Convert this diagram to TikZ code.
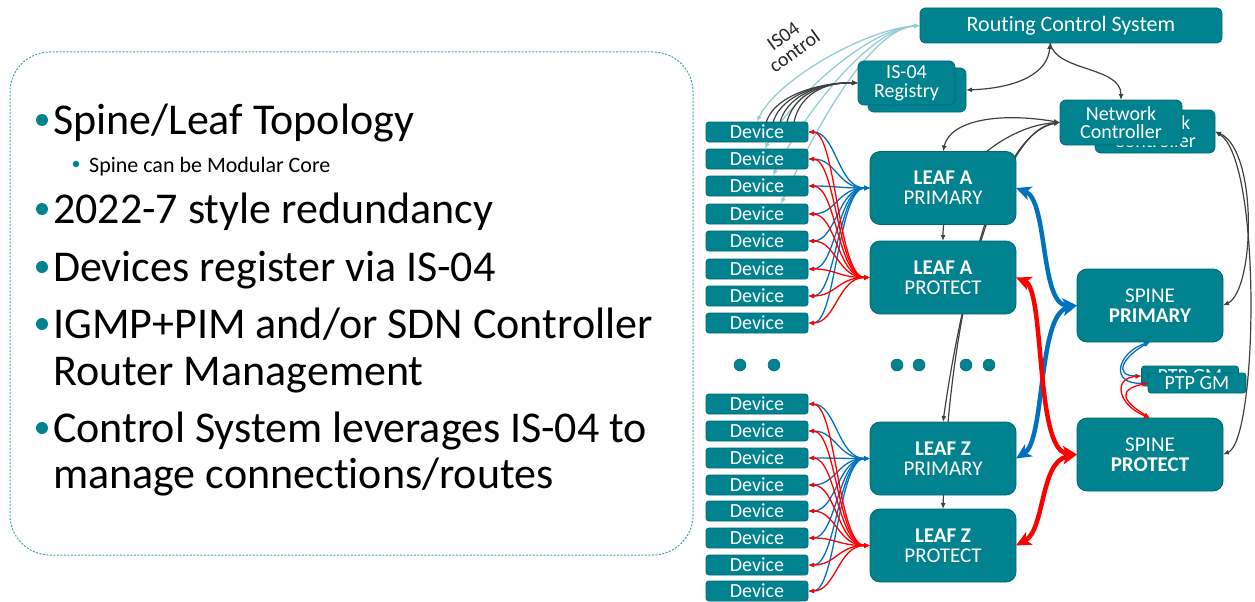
\documentclass[tikz,border=0pt]{standalone}
\usepackage{fontspec}
\setmainfont{Carlito}[Ligatures={NoCommon}]
\usetikzlibrary{arrows.meta,calc}
\pgfdeclarelayer{bg}
\pgfsetlayers{bg,main}
\definecolor{tealf}{RGB}{0,130,143}
\definecolor{tealdk}{RGB}{0,104,115}
\definecolor{dashc}{RGB}{70,160,175}
\definecolor{lblue}{RGB}{150,205,212}
\definecolor{dkgray}{RGB}{64,64,64}
\definecolor{bluec}{RGB}{0,112,192}
\definecolor{redc}{RGB}{255,0,0}
\newcommand\setfsb[2]{\fontsize{#1}{#2}\selectfont}
\begin{document}
\begin{tikzpicture}[x=1pt,y=-1pt,
  tbox/.style={draw=tealdk, line width=0.8pt, fill=tealf, text=white, align=center,
    inner sep=0pt, outer sep=0pt},
  leafbox/.style={tbox, rounded corners=10pt, minimum width=146pt, minimum height=73pt,
    font={\setfsb{21}{20}}},
  devbox/.style={tbox, rounded corners=3pt, minimum width=102pt, minimum height=20pt,
    font={\setfsb{20}{20}}},
  ptpbox/.style={tbox, rounded corners=3pt, minimum width=97pt, minimum height=20pt,
    font={\setfsb{20}{20}}},
  smallarr/.style={{Latex[length=6pt,width=5pt]}-{Latex[length=6pt,width=5pt]}},
  bthin/.style={draw=bluec, line width=1.3pt, smallarr},
  rthin/.style={draw=redc, line width=1.3pt, smallarr},
  lbl/.style={draw=lblue, line width=1.3pt, smallarr},
  dk/.style={draw=dkgray, line width=1.2pt},
  dkb/.style={dk, smallarr},
  bigarr/.style={{Stealth[length=15pt,width=14pt,inset=4pt]}-{Stealth[length=15pt,width=14pt,inset=4pt]}},
  bthick/.style={draw=bluec, line width=4.5pt, bigarr},
  rthick/.style={draw=redc, line width=4.5pt, bigarr},
  btext/.style={anchor=base west, inner sep=0pt, font={\setfsb{44}{44}}},
  bdot/.style={circle, fill=tealf, draw=none, inner sep=0pt, outer sep=0pt, minimum size=#1},
  dotc/.style={fill=tealf, draw=tealdk, line width=0.5pt}
]
\useasboundingbox (0,0) rectangle (1255,602);

% ---------- left text panel ----------
\node[draw=dashc, line width=1pt, dash pattern=on 2pt off 1.5pt, rounded corners=40pt,
  minimum width=683pt, minimum height=503pt, inner sep=0pt] (panel) at (351.5,303.5) {};
\node[bdot=12pt] (b1) at (42,120) {};
\node[btext] (t1) at (53,134) {Spine/Leaf Topology};
\node[bdot=6.5pt] (b2) at (76,164) {};
\node[btext, font={\setfsb{22}{22}}] (t2) at (89,172) {Spine can be Modular Core};
\node[bdot=12pt] (b3) at (42,209) {};
\node[btext] (t3) at (53,223) {2022-7 style redundancy};
\node[bdot=12pt] (b4) at (42,267) {};
\node[btext] (t4) at (53,281) {Devices register via IS-04};
\node[bdot=12pt] (b5) at (42,324) {};
\node[btext] (t5) at (53,338) {IGMP+PIM and/or SDN Controller};
\node[btext] (t6) at (53,385) {Router Management};
\node[bdot=12pt] (b7) at (42,428) {};
\node[btext] (t7) at (53,442) {Control System leverages IS-04 to};
\node[btext] (t8) at (53,488) {manage connections/routes};

% ---------- right diagram nodes ----------
\node[tbox, rounded corners=5pt, minimum width=302pt, minimum height=35pt,
  font={\setfsb{22}{22}}] (rcs) at (1071,25.5) {Routing Control System};

\node[tbox, rounded corners=6pt, minimum width=98pt, minimum height=44pt] (regb) at (917,90) {};
\node[tbox, rounded corners=6pt, minimum width=97pt, minimum height=44pt,
  font={\setfsb{20}{18.5}}] (regf) at (906.5,83) {IS-04\\Registry};

\node[tbox, rounded corners=6pt, minimum width=120pt, minimum height=43pt,
  font={\setfsb{20}{18.5}}] (ncb) at (1155,131.5) {Network\\Controller};
\node[tbox, rounded corners=6pt, minimum width=122pt, minimum height=45pt,
  font={\setfsb{20}{18.5}}] (ncf) at (1121,122.5) {Network\\Controller};

\node[leafbox] (lap)  at (943,188)   {\textbf{LEAF A}\\PRIMARY};
\node[leafbox] (lapr) at (943,277.5) {\textbf{LEAF A}\\PROTECT};
\node[leafbox] (lzp)  at (943,458.5) {\textbf{LEAF Z}\\PRIMARY};
\node[leafbox] (lzpr) at (943,545.5) {\textbf{LEAF Z}\\PROTECT};

\node[leafbox] (spp) at (1150,305.5) {SPINE\\\textbf{PRIMARY}};
\node[leafbox] (spr) at (1150,454.5) {SPINE\\\textbf{PROTECT}};

\node[ptpbox] (ptpb) at (1190,376) {PTP GM};
\node[ptpbox, minimum width=98pt] (ptpf) at (1197,383) {PTP GM};

\foreach \y [count=\i] in {132,159,186,214,241,269,296,323}
  \node[devbox] (a\i) at (757,\y) {Device};
\foreach \y [count=\i] in {404,431,458,485,511,538,565,591}
  \node[devbox] (z\i) at (757,\y) {Device};

\foreach \x [count=\i] in {740,774,897,919,966,989}
  \node[dotc, circle, minimum size=12pt, inner sep=0pt] (dot\i) at (\x,365) {};

\node[rotate=36, font={\setfsb{20}{19}}, align=center, text=black!85, inner sep=0pt]
  (isl) at (789,44) {IS04\\control};

\coordinate (rcsb) at ($(rcs.south)+(-21,0)$);

% ---------- background connectors ----------
\begin{pgfonlayer}{bg}
  \foreach \i/\dx in {1/0,2/8,3/16,4/24}
    \draw[lbl] (rcs.west) .. controls (862,30) and ($(a\i.north)+(\dx+18,-40)$) .. ($(a\i.north)+(\dx,0)$);
  \foreach \dx in {8,15,22,29,36}
    \draw[dk, -{Latex[length=6pt,width=5pt]}] ($(a1.north)+(\dx,6)$) .. controls ($(a1.north)+(\dx+4,-28)$) and (825,82) .. (regf.west);
  \draw[dkb] (regb.east) .. controls (1020,88) and (1048,72) .. (rcsb);
  \draw[dk, -{Latex[length=6pt,width=5pt]}] (rcsb) .. controls (1056,72) and (1121,66) .. (ncf.north);
  \draw[dkb] (ncf.west) .. controls (1000,112) and (950,120) .. (lap.north);
  \draw[dkb] (ncf.west) .. controls (1010,125) and (943,170) .. (lapr.north);
  \draw[dkb] (ncf.west) .. controls (1000,130) and (960,300) .. (lzp.north);
  \draw[dkb] (ncf.west) .. controls (990,135) and (948,330) .. (lzpr.north);
  \draw[dkb] (ncb.east) .. controls (1258,150) and (1255,290) .. (spp.east);
  \draw[dkb] (ncb.east) .. controls (1262,160) and (1258,440) .. (spr.east);
\end{pgfonlayer}

% ---------- device <-> leaf ----------
\foreach \i in {1,...,8} {
  \draw[bthin] (a\i.east) .. controls +(28,0) and +(-32,0) .. (lap.west);
  \draw[bthin] (z\i.east) .. controls +(28,0) and +(-32,0) .. (lzp.west);
}
\foreach \i in {1,...,8} {
  \draw[rthin] (a\i.east) .. controls +(28,0) and +(-32,0) .. (lapr.west);
  \draw[rthin] (z\i.east) .. controls +(28,0) and +(-32,0) .. (lzpr.west);
}

% ---------- leaf <-> spine ----------
\draw[bthick] (lap.east) .. controls (1048,200) and (1040,305) .. (spp.west);
\draw[bthick] (lzp.east) .. controls (1045,440) and (1038,315) .. (spp.west);
\draw[rthick] (lapr.east) .. controls (1045,290) and (1035,450) .. (spr.west);
\draw[rthick] (lzpr.east) .. controls (1045,530) and (1040,462) .. (spr.west);

% ---------- PTP GM ----------
\draw[bthin] (ptpf.west) .. controls (1108,385) and (1118,352) .. (spp.south);
\draw[bthin] (ptpb.west) .. controls (1112,376) and (1124,356) .. (spp.south);
\draw[rthin] (ptpb.west) .. controls (1112,378) and (1118,405) .. (spr.north);
\draw[rthin] (ptpf.west) .. controls (1116,390) and (1124,402) .. (spr.north);
\end{tikzpicture}
\end{document}
